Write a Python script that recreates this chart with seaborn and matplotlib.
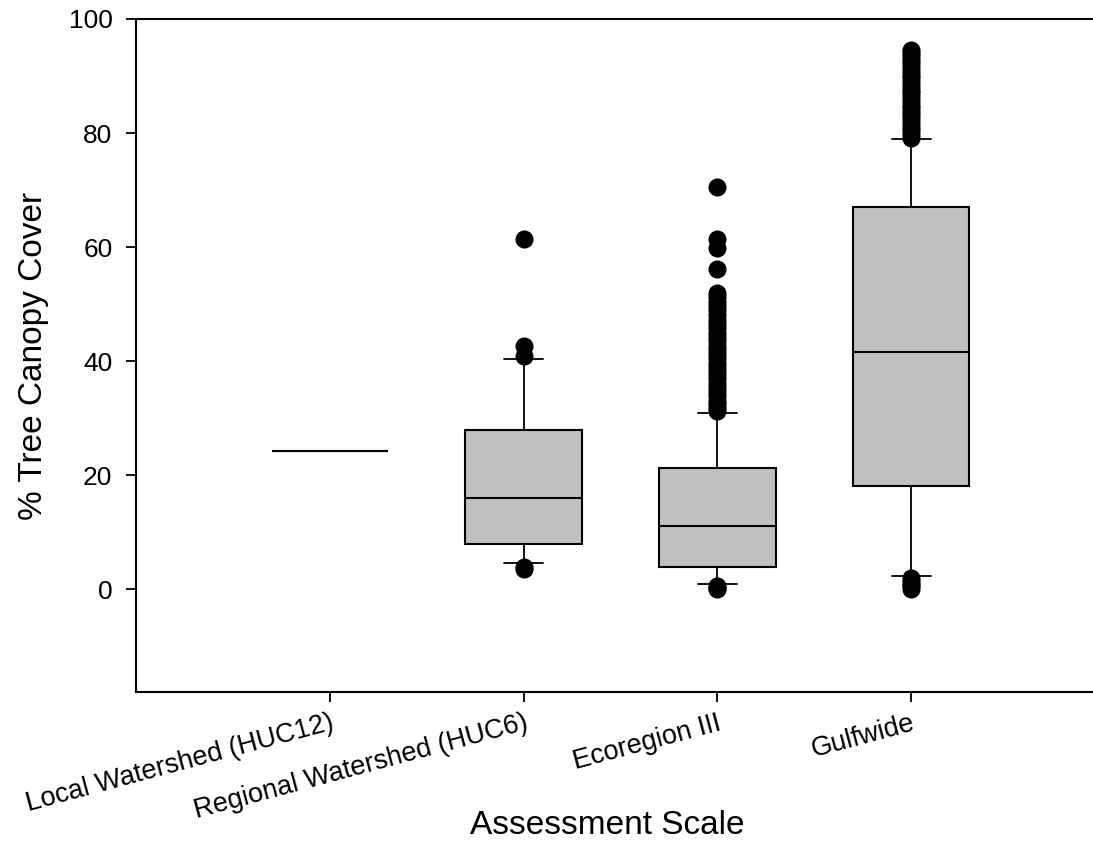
import matplotlib
matplotlib.use("Agg")
import matplotlib.pyplot as plt
import seaborn as sns
import pandas as pd

# ---- data ----
categories = ["Local Watershed (HUC12)", "Regional Watershed (HUC6)", "Ecoregion III", "Gulfwide"]
whisker_low = [24.2, 4.7, 0.9, 2.3]
q1 = [24.2, 7.9, 3.9, 18.2]
medians = [24.2, 16.0, 11.1, 41.6]
q3 = [24.2, 28.0, 21.2, 67.0]
whisker_high = [24.2, 40.3, 30.9, 79.0]

outliers_local = []
outliers_regional = [3.5, 4.0, 41.0, 42.6, 61.4]
outliers_ecoregion = [0.0, 0.3, 0.6,
                      31.2, 31.8, 32.5, 33.1, 33.9, 34.6, 35.3, 36.0, 36.8, 37.5,
                      38.2, 39.0, 39.7, 40.5, 41.2, 42.0, 42.7, 43.5, 44.3, 45.0,
                      45.8, 46.6, 47.3, 48.1, 48.9, 49.6, 50.4, 51.2, 52.0,
                      56.2, 59.8, 61.4, 70.5]
outliers_gulfwide = [0.0, 0.5, 1.0, 1.5, 2.0,
                     79.2, 79.8, 80.5, 81.1, 81.8, 82.4, 83.1, 83.7, 84.4, 85.0,
                     85.7, 86.3, 87.0, 87.6, 88.3, 88.9, 89.6, 90.2, 90.9, 91.5,
                     92.2, 92.8, 93.5, 94.1, 94.6]

y_ticks = [0, 20, 40, 60, 80, 100]
x_label = "Assessment Scale"
y_label = "% Tree Canopy Cover"

# ---- style ----
sns.set_style("ticks")
plt.rcParams["font.family"] = ["Liberation Sans", "DejaVu Sans"]
plt.rcParams["text.color"] = "black"
plt.rcParams["axes.labelcolor"] = "black"
plt.rcParams["xtick.color"] = "black"
plt.rcParams["ytick.color"] = "black"

fig = plt.figure(figsize=(10.93, 8.48), dpi=100)
ax = fig.add_axes([136 / 1093, 156 / 848, (1105 - 136) / 1093, (692 - 19) / 848])

# outliers via seaborn
out_lists = [outliers_local, outliers_regional, outliers_ecoregion, outliers_gulfwide]
rows = []
for cat, vals in zip(categories, out_lists):
    for v in vals:
        rows.append({"scale": cat, "value": v})
df_out = pd.DataFrame(rows)
sns.stripplot(data=df_out, x="scale", y="value", order=categories, jitter=False,
              color="black", size=13, linewidth=0, ax=ax, zorder=3)

# boxes from precomputed statistics
stats = []
for i, cat in enumerate(categories):
    stats.append({"label": cat, "whislo": whisker_low[i], "q1": q1[i], "med": medians[i],
                  "q3": q3[i], "whishi": whisker_high[i], "fliers": []})
bp = ax.bxp(stats, positions=list(range(len(categories))), widths=0.6, patch_artist=True,
            showfliers=False, manage_ticks=False,
            boxprops=dict(facecolor="#c0c0c0", edgecolor="black", linewidth=1.5),
            medianprops=dict(color="black", linewidth=1.5),
            whiskerprops=dict(color="black", linewidth=1.3),
            capprops=dict(color="black", linewidth=1.3),
            capwidths=0.2)
for art in bp["caps"] + bp["whiskers"]:
    art.set_zorder(4)

ax.set_xlim(-1, 4)
ax.set_ylim(-18, 100)
ax.set_yticks(y_ticks)
ax.set_xticks(range(len(categories)))
ax.set_xticklabels(categories, rotation=15, ha="right", va="top", rotation_mode="anchor",
                   fontsize=19.5, color="black")
ax.tick_params(axis="x", length=7, width=1.3, pad=6, color="black", labelcolor="black")
ax.tick_params(axis="y", length=7, width=1.3, pad=10, labelsize=19, color="black",
               labelcolor="black")

for side in ["left", "bottom", "top"]:
    ax.spines[side].set_visible(True)
    ax.spines[side].set_linewidth(1.5)
    ax.spines[side].set_color("black")
ax.spines["right"].set_visible(False)

ax.set_xlabel(x_label, fontsize=24, color="black")
ax.xaxis.set_label_coords(0.486, -0.176)
ax.set_ylabel(y_label, fontsize=24, labelpad=14, color="black")

fig.savefig("out.png", dpi=100)
